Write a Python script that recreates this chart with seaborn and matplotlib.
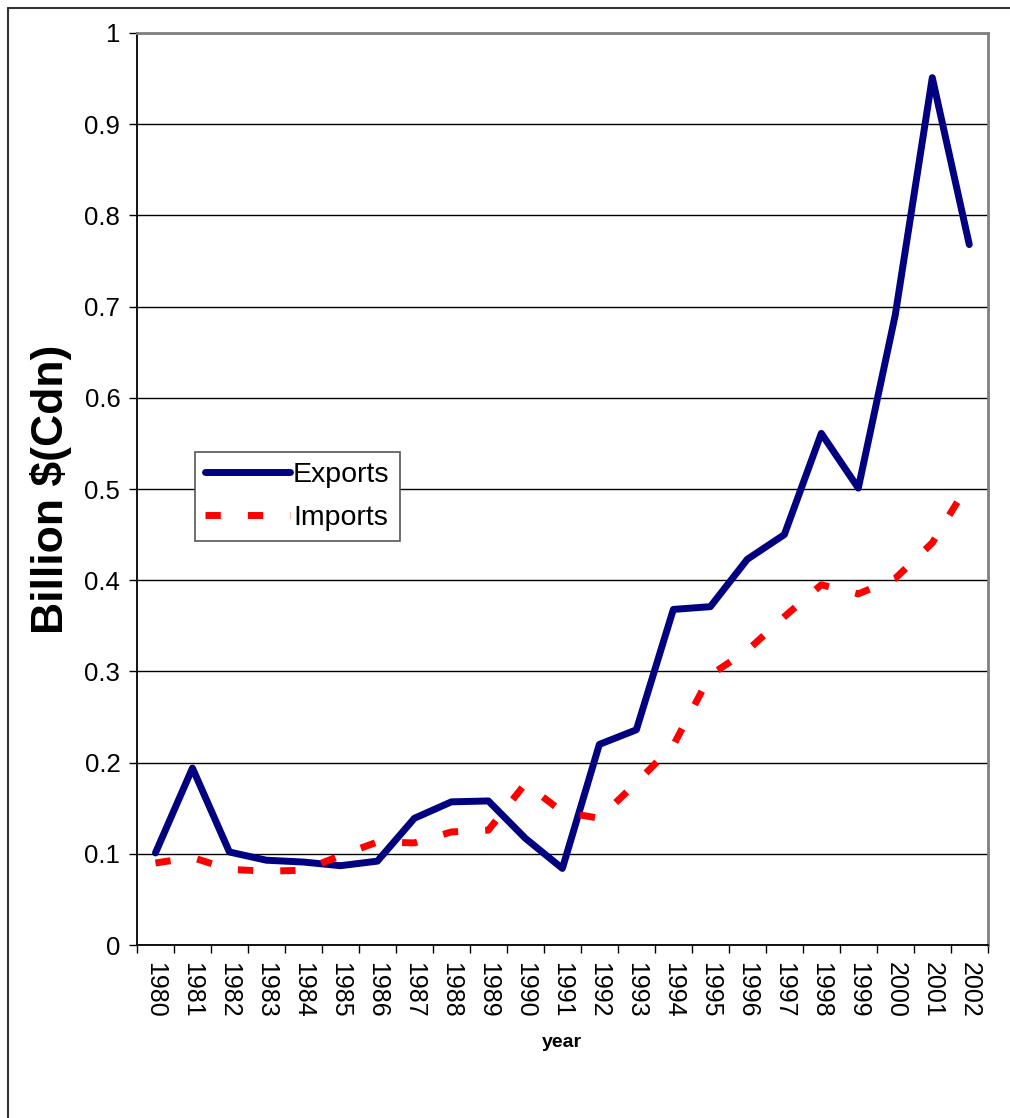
import numpy as np
import pandas as pd
import seaborn as sns
import matplotlib.pyplot as plt
from matplotlib.lines import Line2D

years = [str(y) for y in range(1980, 2003)]
exports = [0.101, 0.194, 0.102, 0.093, 0.091, 0.087, 0.092, 0.139, 0.157, 0.158,
           0.117, 0.084, 0.220, 0.236, 0.368, 0.371, 0.423, 0.450, 0.561, 0.501,
           0.691, 0.951, 0.768]
imports = [0.090, 0.096, 0.083, 0.081, 0.082, 0.098, 0.113, 0.112, 0.124, 0.126,
           0.177, 0.146, 0.139, 0.178, 0.219, 0.296, 0.323, 0.360, 0.395, 0.385,
           0.402, 0.441, 0.507]

df = pd.DataFrame({'year': years, 'Exports': exports, 'Imports': imports})
df['pos'] = np.arange(len(years))

sns.set_theme(style="white", rc={"text.color": "black", "axes.labelcolor": "black",
                                 "xtick.color": "black", "ytick.color": "black"})
plt.rcParams['font.family'] = ['Liberation Sans', 'DejaVu Sans']

fig = plt.figure(figsize=(10.1, 11.18), dpi=100)
ax = fig.add_axes([0.1356, 0.1547, 0.978 - 0.1356, 0.9705 - 0.1547])

# outer chart frame (left and top only visible)
fig.add_artist(Line2D([8 / 1010, 8 / 1010], [0, 1 - 8 / 1118], color='#333333', lw=1.5,
                      transform=fig.transFigure))
fig.add_artist(Line2D([8 / 1010, 1], [1 - 8 / 1118, 1 - 8 / 1118], color='#333333', lw=1.5,
                      transform=fig.transFigure))

sns.lineplot(data=df, x='pos', y='Exports', ax=ax, color='#000080', lw=5,
             label='Exports', solid_capstyle='round', solid_joinstyle='round')
sns.lineplot(data=df, x='pos', y='Imports', ax=ax, color='#ff0000', lw=5,
             label='Imports', dashes=False)
ax.lines[1].set_dashes([2.2, 3.9])
ax.lines[1].set_dash_capstyle('butt')

ax.set_xlim(-0.5, len(years) - 0.5)
ax.set_ylim(0, 1)
ax.set_yticks(np.arange(0, 1.01, 0.1))
ax.set_yticklabels(['0'] + [f'{v:.1f}' for v in np.arange(0.1, 1.0, 0.1)] + ['1'], fontsize=18.5)
ax.yaxis.grid(True, color='black', lw=1)
ax.set_axisbelow(True)

ax.set_xticks(df['pos'])
ax.set_xticklabels(years, rotation=270, fontsize=18)
ax.set_xticks(np.arange(-0.5, len(years), 1), minor=True)
ax.tick_params(axis='x', which='major', length=0, pad=12)
ax.tick_params(axis='x', which='minor', length=6, width=1, color='black', direction='out', bottom=True)
ax.tick_params(axis='y', length=6, width=1, color='black', direction='out', left=True, pad=6)

for s in ['left', 'bottom']:
    ax.spines[s].set_color('black')
    ax.spines[s].set_linewidth(1.3)
for s in ['top', 'right']:
    ax.spines[s].set_color('#808080')
    ax.spines[s].set_linewidth(2)

ax.set_xlabel('year', fontsize=14, fontweight='bold', labelpad=12)
ax.set_ylabel('Billion $(Cdn)', fontsize=32, fontweight='bold', labelpad=9)

leg = ax.legend(loc='upper left', bbox_to_anchor=(0.068, 0.541), fontsize=20.5,
                frameon=True, fancybox=False, handlelength=3.0, handletextpad=0.1,
                borderpad=0.35, labelspacing=0.6, borderaxespad=0)
leg.get_frame().set_edgecolor('#555555')
leg.get_frame().set_linewidth(1.2)
leg.get_frame().set_alpha(1)

fig.savefig('out.png', dpi=100)
